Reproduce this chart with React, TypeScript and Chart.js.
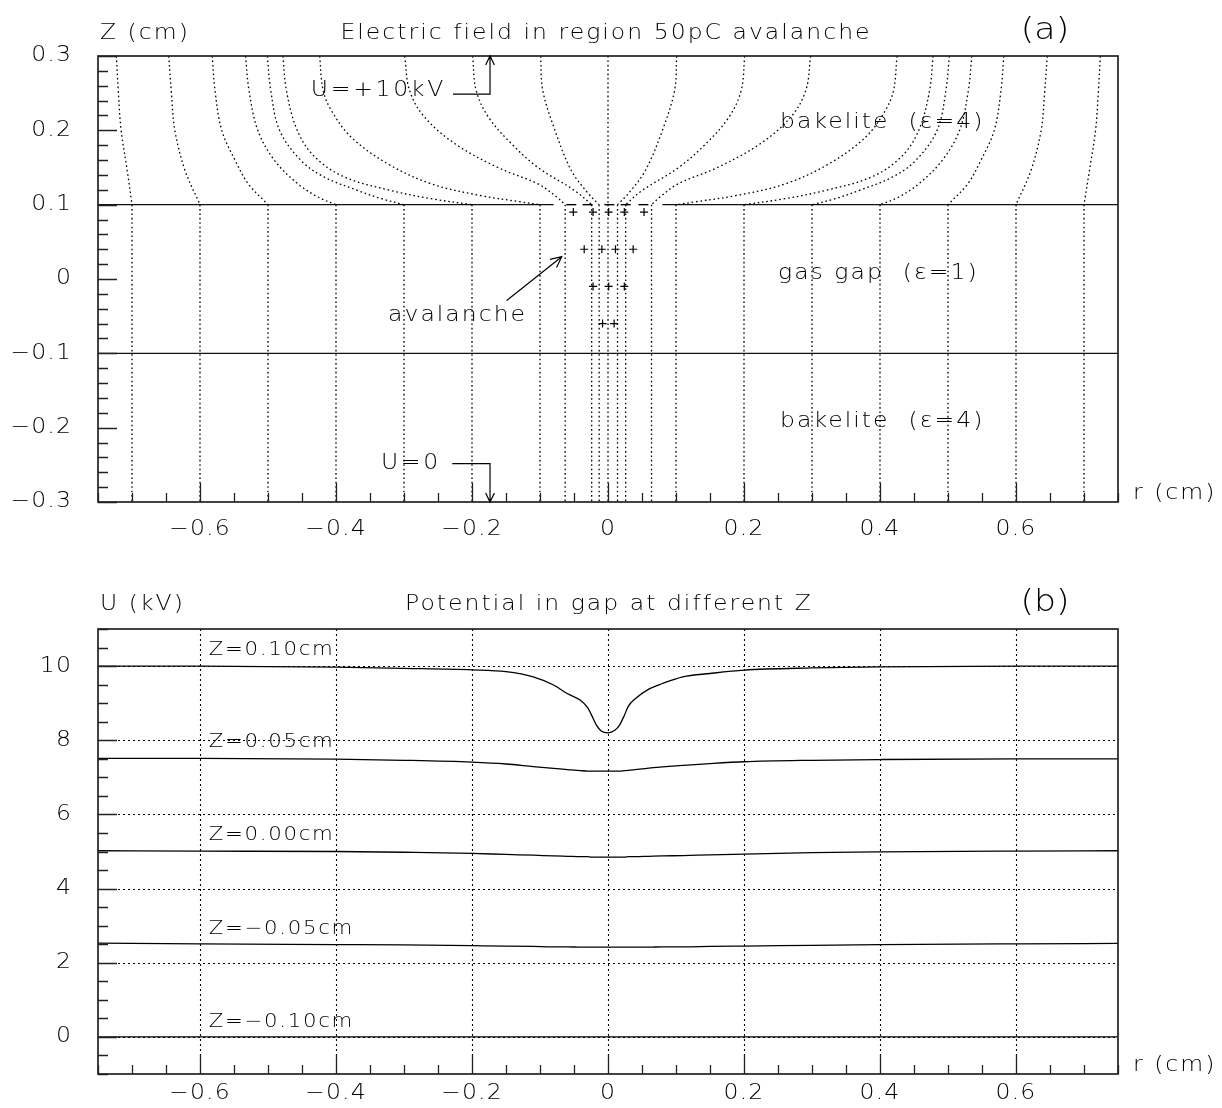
import React, { useEffect, useRef } from 'react';
import { Chart, registerables } from 'chart.js';

Chart.register(...registerables);

const FONT = "'DejaVu Sans', 'Liberation Sans', sans-serif";
const INK = '#000';

// ---------------- Panel (a): electric field lines ----------------
// Field lines in the upper bakelite, [r, z] points (cm), from the top electrode down to z = 0.1
const upperLinesLeft: number[][][] = [
  [[-0.723, 0.3], [-0.720, 0.25], [-0.716, 0.2], [-0.707, 0.146], [-0.700, 0.1]],
  [[-0.646, 0.3], [-0.642, 0.25], [-0.637, 0.2], [-0.622, 0.146], [-0.600, 0.1]],
  [[-0.582, 0.3], [-0.578, 0.254], [-0.568, 0.2], [-0.548, 0.159], [-0.529, 0.128], [-0.500, 0.1]],
  [[-0.533, 0.3], [-0.528, 0.254], [-0.515, 0.2], [-0.490, 0.159], [-0.456, 0.128], [-0.426, 0.11], [-0.400, 0.1]],
  [[-0.501, 0.3], [-0.496, 0.254], [-0.483, 0.2], [-0.451, 0.159], [-0.417, 0.137], [-0.368, 0.119], [-0.333, 0.108], [-0.300, 0.1]],
  [[-0.478, 0.3], [-0.473, 0.254], [-0.457, 0.2], [-0.431, 0.164], [-0.387, 0.137], [-0.319, 0.119], [-0.260, 0.108], [-0.200, 0.1]],
  [[-0.424, 0.3], [-0.419, 0.254], [-0.407, 0.227], [-0.378, 0.191], [-0.324, 0.155], [-0.260, 0.128], [-0.186, 0.112], [-0.130, 0.104], [-0.100, 0.1]],
  [[-0.299, 0.3], [-0.292, 0.254], [-0.270, 0.218], [-0.225, 0.182], [-0.162, 0.150], [-0.103, 0.128], [-0.075, 0.11], [-0.063, 0.1]],
  [[-0.199, 0.3], [-0.194, 0.254], [-0.176, 0.218], [-0.142, 0.182], [-0.103, 0.150], [-0.049, 0.119], [-0.024, 0.1]],
  [[-0.099, 0.3], [-0.096, 0.254], [-0.078, 0.2], [-0.054, 0.146], [-0.029, 0.115], [-0.013, 0.1]],
];
const upperLinesRight: number[][][] = [
  [[0.101, 0.3], [0.098, 0.254], [0.080, 0.2], [0.055, 0.146], [0.030, 0.115], [0.014, 0.1]],
  [[0.201, 0.3], [0.196, 0.254], [0.178, 0.218], [0.144, 0.182], [0.104, 0.150], [0.050, 0.119], [0.026, 0.1]],
  [[0.298, 0.3], [0.291, 0.254], [0.269, 0.218], [0.224, 0.182], [0.161, 0.150], [0.103, 0.128], [0.076, 0.11], [0.064, 0.1]],
  [[0.425, 0.3], [0.420, 0.254], [0.408, 0.227], [0.379, 0.191], [0.325, 0.155], [0.261, 0.128], [0.187, 0.112], [0.130, 0.104], [0.100, 0.1]],
  [[0.478, 0.3], [0.473, 0.254], [0.457, 0.2], [0.431, 0.164], [0.387, 0.137], [0.319, 0.119], [0.260, 0.108], [0.200, 0.1]],
  [[0.502, 0.3], [0.497, 0.254], [0.484, 0.2], [0.452, 0.159], [0.418, 0.137], [0.369, 0.119], [0.334, 0.108], [0.300, 0.1]],
  [[0.535, 0.3], [0.530, 0.254], [0.517, 0.2], [0.491, 0.159], [0.457, 0.128], [0.427, 0.11], [0.400, 0.1]],
  [[0.582, 0.3], [0.578, 0.254], [0.568, 0.2], [0.548, 0.159], [0.529, 0.128], [0.500, 0.1]],
  [[0.646, 0.3], [0.642, 0.25], [0.637, 0.2], [0.622, 0.146], [0.600, 0.1]],
  [[0.724, 0.3], [0.721, 0.25], [0.717, 0.2], [0.708, 0.146], [0.700, 0.1]],
];
// Straight field lines through gas gap and lower bakelite (z from 0.1 down to -0.3)
const gapLinesR = [-0.7, -0.6, -0.5, -0.4, -0.3, -0.2, -0.1, -0.063, -0.024, -0.013, 0, 0.014, 0.026, 0.064, 0.1, 0.2, 0.3, 0.4, 0.5, 0.6, 0.7];
const centralLineZ = [0.3, 0.1];

// Layer boundaries (solid lines)
const upperBoundaryLeftR = [-0.75, -0.08];
const upperBoundaryRightR = [0.08, 0.75];
const upperBoundaryZ = 0.1;
const lowerBoundaryR = [-0.75, 0.75];
const lowerBoundaryZ = -0.1;

// Avalanche charges
const plusR = [-0.051, -0.022, 0.001, 0.024, 0.053, -0.035, -0.009, 0.011, 0.037, -0.022, 0.001, 0.024, -0.008, 0.009];
const plusZ = [0.09, 0.09, 0.09, 0.09, 0.09, 0.04, 0.04, 0.04, 0.04, -0.01, -0.01, -0.01, -0.06, -0.06];
const minusR = [-0.054, -0.030, 0.002, 0.026, 0.052];
const minusZ = [0.1, 0.1, 0.1, 0.1, 0.1];

// ---------------- Panel (b): potential in gap ----------------
const potentialR = [-0.75, -0.6, -0.4, -0.3, -0.2, -0.15, -0.11, -0.08, -0.06, -0.04, -0.03, -0.024, -0.017, -0.01, 0, 0.01, 0.017, 0.024, 0.03, 0.04, 0.06, 0.08, 0.11, 0.15, 0.2, 0.3, 0.4, 0.6, 0.75];
const uZ010 = [10.0, 10.0, 9.97, 9.94, 9.9, 9.85, 9.71, 9.49, 9.26, 9.07, 8.88, 8.67, 8.41, 8.25, 8.2, 8.27, 8.41, 8.67, 8.92, 9.12, 9.38, 9.53, 9.71, 9.8, 9.89, 9.95, 9.98, 10.0, 10.0];
const uZ005 = [7.51, 7.51, 7.49, 7.46, 7.41, 7.36, 7.29, 7.24, 7.21, 7.18, 7.17, 7.17, 7.17, 7.17, 7.17, 7.17, 7.17, 7.18, 7.19, 7.21, 7.25, 7.28, 7.32, 7.37, 7.42, 7.46, 7.48, 7.5, 7.5];
const uZ000 = [5.02, 5.01, 5.0, 4.98, 4.95, 4.92, 4.9, 4.88, 4.87, 4.86, 4.86, 4.85, 4.85, 4.85, 4.85, 4.85, 4.85, 4.85, 4.86, 4.86, 4.87, 4.88, 4.89, 4.91, 4.93, 4.97, 4.99, 5.01, 5.02];
const uZm005 = [2.53, 2.51, 2.49, 2.48, 2.46, 2.45, 2.44, 2.43, 2.43, 2.42, 2.42, 2.42, 2.42, 2.42, 2.42, 2.42, 2.42, 2.42, 2.42, 2.42, 2.42, 2.43, 2.43, 2.44, 2.45, 2.47, 2.49, 2.51, 2.52];
const uZm010 = [0, 0, 0, 0, 0, 0, 0, 0, 0, 0, 0, 0, 0, 0, 0, 0, 0, 0, 0, 0, 0, 0, 0, 0, 0, 0, 0, 0, 0];
const curveLabels = ['Z=0.10cm', 'Z=0.05cm', 'Z=0.00cm', 'Z=\u22120.05cm', 'Z=\u22120.10cm'];
const curveLabelU = [10.43, 7.95, 5.43, 2.92, 0.41];

// Axis ranges
const rRange = [-0.75, 0.75];
const zRange = [-0.3, 0.3];
const uRange = [-1, 11];

// ---------------- helpers ----------------
const near = (v: number, step: number) => Math.abs(v / step - Math.round(v / step)) < 1e-6;
const fmt = (v: number, dec: number) => {
  if (Math.abs(v) < 1e-9) return '0';
  const s = Math.abs(v).toFixed(dec);
  return (v < 0 ? '\u2212' : '') + s;
};

const SX = 1.12; // horizontal stretch to mimic the wide plotting font

function txt(ctx: CanvasRenderingContext2D, s: string, x: number, y: number, size: number, align: CanvasTextAlign = 'left', spacing = 1.8) {
  ctx.save();
  ctx.translate(x, y);
  ctx.scale(SX, 1);
  ctx.font = `300 ${size}px ${FONT}`;
  (ctx as any).letterSpacing = `${spacing}px`;
  ctx.fillStyle = INK;
  ctx.textAlign = align;
  ctx.textBaseline = 'middle';
  ctx.fillText(s, 0, 0);
  ctx.restore();
}

function arrowPath(ctx: CanvasRenderingContext2D, pts: number[][], head = 11) {
  ctx.save();
  ctx.strokeStyle = INK;
  ctx.lineWidth = 1.2;
  ctx.beginPath();
  ctx.moveTo(pts[0][0], pts[0][1]);
  for (let i = 1; i < pts.length; i++) ctx.lineTo(pts[i][0], pts[i][1]);
  const [x1, y1] = pts[pts.length - 2];
  const [x2, y2] = pts[pts.length - 1];
  const a = Math.atan2(y2 - y1, x2 - x1);
  ctx.moveTo(x2 - head * Math.cos(a - 0.45), y2 - head * Math.sin(a - 0.45));
  ctx.lineTo(x2, y2);
  ctx.lineTo(x2 - head * Math.cos(a + 0.45), y2 - head * Math.sin(a + 0.45));
  ctx.stroke();
  ctx.restore();
}

// Frame, inward ticks and tick labels taken from the chart's own scales
function drawAxes(chart: any, xLabelOffset: number) {
  const ctx: CanvasRenderingContext2D = chart.ctx;
  const xs = chart.scales.x;
  const ys = chart.scales.y;
  const { left, right, top, bottom } = chart.chartArea;
  ctx.save();
  ctx.strokeStyle = '#222';
  ctx.lineWidth = 1.3;
  ctx.beginPath();
  xs.ticks.forEach((t: any) => {
    const px = Math.round(xs.getPixelForValue(t.value)) + 0.5;
    const len = t.label ? 19 : 9;
    ctx.moveTo(px, bottom);
    ctx.lineTo(px, bottom - len);
  });
  ys.ticks.forEach((t: any) => {
    const py = Math.round(ys.getPixelForValue(t.value)) + 0.5;
    const len = t.label ? 19 : 10;
    ctx.moveTo(left, py);
    ctx.lineTo(left + len, py);
  });
  ctx.stroke();
  ctx.lineWidth = 1.7;
  ctx.strokeRect(left, top, right - left, bottom - top);
  ctx.restore();
  xs.ticks.forEach((t: any) => {
    if (t.label) txt(ctx, String(t.label), xs.getPixelForValue(t.value), bottom + xLabelOffset, 21, 'center', 1);
  });
  ys.ticks.forEach((t: any) => {
    if (t.label) txt(ctx, String(t.label), left - 26, ys.getPixelForValue(t.value), 21, 'right', 1);
  });
}

function baseOptions(padTop: number, xHeight: number, yMin: number, yMax: number, yStep: number, yLabelStep: number, yDec: number) {
  return {
    animation: false as const,
    responsive: false,
    devicePixelRatio: 1,
    events: [] as any[],
    layout: { padding: { top: padTop, right: 104, left: 0, bottom: 0 } },
    plugins: { legend: { display: false }, tooltip: { enabled: false }, title: { display: false } },
    elements: { point: { radius: 0 } },
    scales: {
      x: {
        type: 'linear' as const,
        min: rRange[0],
        max: rRange[1],
        grid: { display: false, drawTicks: false },
        border: { display: false },
        afterFit: (s: any) => { s.height = xHeight; },
        ticks: {
          display: false,
          stepSize: 0.05,
          autoSkip: false,
          callback: (v: any) => (near(Number(v), 0.2) ? fmt(Number(v), 1) : ''),
        },
      },
      y: {
        type: 'linear' as const,
        min: yMin,
        max: yMax,
        grid: { display: false, drawTicks: false },
        border: { display: false },
        afterFit: (s: any) => { s.width = 98; },
        ticks: {
          display: false,
          stepSize: yStep,
          autoSkip: false,
          callback: (v: any) => (near(Number(v), yLabelStep) ? fmt(Number(v), yDec) : ''),
        },
      },
    },
  };
}

const PAGE_H = 1108;
const dotted = { borderColor: INK, borderWidth: 1.3, borderDash: [1.6, 2.8], pointRadius: 0, fill: false };
const solid = { borderColor: '#111', borderWidth: 1.4, pointRadius: 0, fill: false, tension: 0 };

function topConfig(): any {
  const datasets: any[] = [];
  [...upperLinesLeft, ...upperLinesRight].forEach((line) => {
    datasets.push({ ...dotted, tension: 0.35, data: line.map(([r, z]) => ({ x: r, y: z })) });
  });
  gapLinesR.forEach((r) => {
    datasets.push({ ...dotted, tension: 0, data: [{ x: r, y: 0.1 }, { x: r, y: zRange[0] }] });
  });
  datasets.push({ ...dotted, tension: 0, data: centralLineZ.map((z) => ({ x: 0, y: z })) });
  datasets.push({ ...solid, data: upperBoundaryLeftR.map((r) => ({ x: r, y: upperBoundaryZ })) });
  datasets.push({ ...solid, data: upperBoundaryRightR.map((r) => ({ x: r, y: upperBoundaryZ })) });
  datasets.push({ ...solid, data: lowerBoundaryR.map((r) => ({ x: r, y: lowerBoundaryZ })) });
  datasets.push({
    showLine: false, pointStyle: 'cross', pointRadius: 4, pointBorderColor: INK, pointBorderWidth: 1.2,
    data: plusR.map((r, i) => ({ x: r, y: plusZ[i] })),
  });
  datasets.push({
    showLine: false, pointStyle: 'line', pointRadius: 5, pointBorderColor: INK, pointBorderWidth: 1.4,
    data: minusR.map((r, i) => ({ x: r, y: minusZ[i] })),
  });

  const decor = {
    id: 'decorTop',
    afterDraw(chart: any) {
      const ctx: CanvasRenderingContext2D = chart.ctx;
      const xs = chart.scales.x;
      const ys = chart.scales.y;
      const P = (r: number, z: number) => [xs.getPixelForValue(r), ys.getPixelForValue(z)];
      drawAxes(chart, 28);
      txt(ctx, 'Z (cm)', 100, 34, 21);
      txt(ctx, 'Electric field in region 50pC avalanche', 606, 34, 21, 'center');
      txt(ctx, '(a)', 1045, 31, 31, 'center', 0);
      txt(ctx, 'r (cm)', 1133, chart.chartArea.bottom - 8, 21);
      const [ux, uy] = P(-0.437, 0.2536);
      txt(ctx, 'U=+10kV', ux, uy, 21, 'left', 2.4);
      arrowPath(ctx, [P(-0.228, 0.2487), P(-0.1735, 0.2487), P(-0.1735, 0.3)], 10);
      const [u0x, u0y] = P(-0.334, -0.2485);
      txt(ctx, 'U=0', u0x, u0y, 21, 'left', 2.4);
      arrowPath(ctx, [P(-0.229, -0.2485), P(-0.1735, -0.2485), P(-0.1735, -0.3)], 10);
      const [ax, ay] = P(-0.3235, -0.049);
      txt(ctx, 'avalanche', ax, ay, 21);
      arrowPath(ctx, [P(-0.149, -0.029), P(-0.068, 0.030)], 12);
      const [b1x, b1y] = P(0.253, 0.2105);
      txt(ctx, 'bakelite  (\u03b5=4)', b1x, b1y, 21);
      const [gx, gy] = P(0.25, 0.007);
      txt(ctx, 'gas gap  (\u03b5=1)', gx, gy, 21);
      const [b2x, b2y] = P(0.253, -0.1918);
      txt(ctx, 'bakelite  (\u03b5=4)', b2x, b2y, 21);
    },
  };

  return {
    type: 'line',
    data: { datasets },
    options: baseOptions(56, PAGE_H - 502, zRange[0], zRange[1], 0.02, 0.1, 1),
    plugins: [decor],
  };
}

function bottomConfig(): any {
  const series = [uZ010, uZ005, uZ000, uZm005, uZm010];
  const datasets = series.map((vals) => ({
    ...solid,
    borderColor: INK,
    borderWidth: 1.3,
    cubicInterpolationMode: 'monotone',
    data: potentialR.map((r, i) => ({ x: r, y: vals[i] })),
  }));
  const decor = {
    id: 'decorBottom',
    beforeDatasetsDraw(chart: any) {
      const ctx: CanvasRenderingContext2D = chart.ctx;
      const xs = chart.scales.x;
      const ys = chart.scales.y;
      const { left, right, top, bottom } = chart.chartArea;
      ctx.save();
      ctx.strokeStyle = INK;
      ctx.lineWidth = 1.1;
      ctx.setLineDash([2, 3]);
      ctx.beginPath();
      xs.ticks.forEach((t: any) => {
        if (!t.label || Math.abs(Math.abs(t.value) - 0.75) < 1e-6) return;
        const px = Math.round(xs.getPixelForValue(t.value)) + 0.5;
        ctx.moveTo(px, top);
        ctx.lineTo(px, bottom);
      });
      ys.ticks.forEach((t: any) => {
        if (!t.label) return;
        const py = Math.round(ys.getPixelForValue(t.value)) + 0.5;
        ctx.moveTo(left, py);
        ctx.lineTo(right, py);
      });
      ctx.stroke();
      ctx.restore();
    },
    afterDraw(chart: any) {
      const ctx: CanvasRenderingContext2D = chart.ctx;
      const xs = chart.scales.x;
      const ys = chart.scales.y;
      drawAxes(chart, 20);
      txt(ctx, 'U (kV)', 100, 605, 21);
      txt(ctx, 'Potential in gap at different Z', 609, 605, 21, 'center');
      txt(ctx, '(b)', 1045, 603, 31, 'center', 0);
      txt(ctx, 'r (cm)', 1133, chart.chartArea.bottom - 8, 21);
      curveLabels.forEach((s, i) => {
        txt(ctx, s, xs.getPixelForValue(-0.587), ys.getPixelForValue(curveLabelU[i]), 19, 'left', 1.5);
      });
    },
  };
  return {
    type: 'line',
    data: { datasets },
    options: baseOptions(629, PAGE_H - 1074, uRange[0], uRange[1], 0.5, 2, 0),
    plugins: [decor],
  };
}

export default function App() {
  const topRef = useRef<HTMLCanvasElement>(null);
  const botRef = useRef<HTMLCanvasElement>(null);
  useEffect(() => {
    const c1 = new Chart(topRef.current as HTMLCanvasElement, topConfig());
    const c2 = new Chart(botRef.current as HTMLCanvasElement, bottomConfig());
    return () => {
      c1.destroy();
      c2.destroy();
    };
  }, []);
  return (
    <div style={{ position: 'absolute', left: 0, top: 0, width: 1222, height: PAGE_H, background: '#fff' }}>
      <canvas ref={topRef} width={1222} height={PAGE_H} style={{ position: 'absolute', left: 0, top: 0 }} />
      <canvas ref={botRef} width={1222} height={PAGE_H} style={{ position: 'absolute', left: 0, top: 0 }} />
    </div>
  );
}
